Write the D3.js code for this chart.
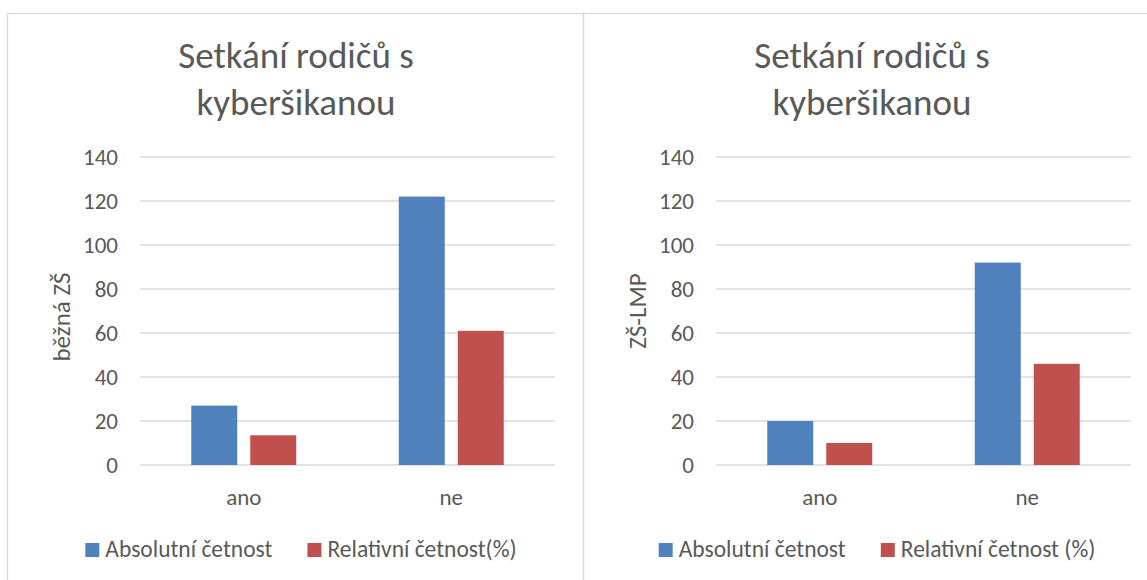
<!DOCTYPE html>
<html>
<head>
<meta charset="utf-8">
<script src="https://cdn.jsdelivr.net/npm/d3@7"></script>
<style>
  body { margin: 0; background: #fff; }
  svg { display: block; }
  text { font-family: Carlito, Calibri, "Liberation Sans Narrow", "Noto Sans", sans-serif; fill: #595959; }
</style>
</head>
<body>
<div id="chart"></div>
<script>
// data
const categories = ['ano', 'ne'];
const yTicks = [0, 20, 40, 60, 80, 100, 120, 140];
const titleLines = ['Setkání rodičů s', 'kyberšikanou'];

const leftSeries = ['Absolutní četnost', 'Relativní četnost(%)'];
const leftAbs = [27, 122];
const leftRel = [13.5, 61];

const rightSeries = ['Absolutní četnost', 'Relativní četnost (%)'];
const rightAbs = [20, 92];
const rightRel = [10, 46];

const colors = ['#4F81BD', '#C0504D'];

const W = 1147, H = 580;
const svg = d3.select('#chart').append('svg')
    .attr('width', W)
    .attr('height', H);

svg.append('rect').attr('width', W).attr('height', H).attr('fill', '#fff');

const panels = [
    { x0: 8, axisTitle: 'běžná ZŠ', titleY: 317, series: leftSeries, values: [leftAbs, leftRel] },
    { x0: 584, axisTitle: 'ZŠ-LMP', titleY: 311, series: rightSeries, values: [rightAbs, rightRel] }
];

const panelW = 576;

const y = d3.scaleLinear().domain([0, 140]).range([465, 157]);

panels.forEach(p => {
    const g = svg.append('g').attr('transform', `translate(${p.x0},0)`);

    // panel frame
    g.append('rect')
        .attr('x', -0.5).attr('y', 13.5)
        .attr('width', panelW).attr('height', H)
        .attr('fill', 'none')
        .attr('stroke', '#D9D9D9')
        .attr('stroke-width', 1.3);

    // title
    g.append('text')
        .attr('text-anchor', 'middle')
        .style('font-size', '37px')
        .selectAll('tspan').data(titleLines).enter()
        .append('tspan')
        .attr('x', panelW / 2)
        .attr('y', (d, i) => 68 + i * 47)
        .text(d => d);

    const x0 = d3.scaleBand().domain(categories).range([132, 547]);
    const x1 = d3.scaleBand().domain(p.series).range([0, 105]).paddingInner(0.22);

    // gridlines
    g.append('g').selectAll('line').data(yTicks).enter()
        .append('line')
        .attr('x1', x0.range()[0]).attr('x2', x0.range()[1])
        .attr('y1', d => y(d)).attr('y2', d => y(d))
        .attr('stroke', '#D9D9D9')
        .attr('stroke-width', 1.3);

    // y axis labels
    const yAxis = d3.axisLeft(y).tickValues(yTicks).tickSize(0).tickPadding(0);
    const ya = g.append('g').attr('transform', 'translate(110,0)').call(yAxis);
    ya.select('.domain').remove();
    ya.selectAll('text')
        .attr('dy', 7.5)
        .attr('fill', '#595959')
        .style('font-size', '23px')
        .style('font-family', null);

    // y axis title
    g.append('text')
        .attr('transform', `translate(62,${p.titleY}) rotate(-90)`)
        .attr('text-anchor', 'middle')
        .style('font-size', '25px')
        .text(p.axisTitle);

    // bars
    const groups = g.append('g').selectAll('g').data(categories).enter()
        .append('g')
        .attr('transform', c => `translate(${x0(c) + x0.bandwidth() / 2 - 52.5},0)`);

    groups.selectAll('rect')
        .data((c, ci) => p.series.map((s, si) => ({ s, si, v: p.values[si][ci] })))
        .enter().append('rect')
        .attr('x', d => x1(d.s))
        .attr('width', x1.bandwidth())
        .attr('y', d => y(d.v))
        .attr('height', d => y(0) - y(d.v))
        .attr('fill', d => colors[d.si]);

    // category labels
    g.append('g').selectAll('text').data(categories).enter()
        .append('text')
        .attr('x', c => x0(c) + x0.bandwidth() / 2)
        .attr('y', 505)
        .attr('text-anchor', 'middle')
        .style('font-size', '23px')
        .text(c => c);

    // legend
    const leg = g.append('g');
    const items = leg.selectAll('g').data(p.series).enter().append('g');
    items.append('rect')
        .attr('width', 14).attr('height', 14)
        .attr('y', 543)
        .attr('fill', (d, i) => colors[i]);
    items.append('text')
        .attr('x', 20).attr('y', 557)
        .style('font-size', '23.5px')
        .text(d => d);

    let cx = 0;
    items.each(function () {
        const w = this.getBBox().width;
        d3.select(this).attr('transform', `translate(${cx},0)`);
        cx += w + 35;
    });
    const total = cx - 35;
    leg.attr('transform', `translate(${293 - total / 2},0)`);
});
</script>
</body>
</html>
